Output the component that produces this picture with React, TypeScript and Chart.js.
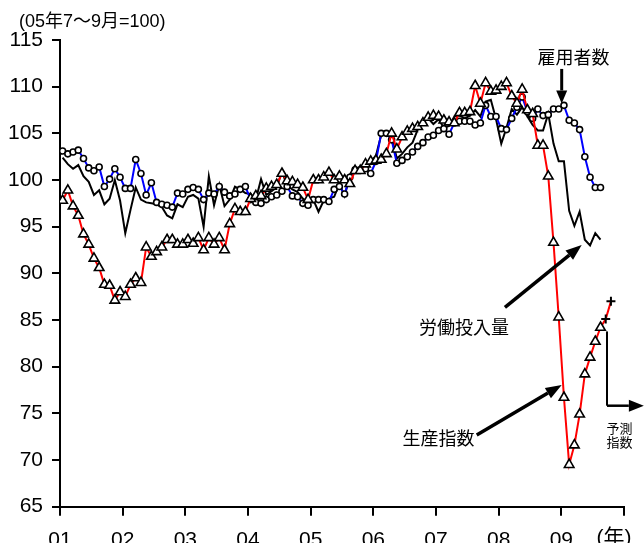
import React, { useEffect, useRef } from 'react';
import { Chart, registerables } from 'chart.js';

Chart.register(...registerables);

// ---- data (monthly, Jan 2001 .. Aug 2009), index 2005 Jul-Sep = 100 ----
const unitLabel = '(05年7～9月=100)';
const yearLabels = ['01', '02', '03', '04', '05', '06', '07', '08', '09'];
const yearUnit = '(年)';
const yMin = 65;
const yMax = 115;
const yStep = 5;

const production = [
  97.8, 98.9, 97.2, 96.2, 94.2, 93.1, 91.6, 90.6, 88.8, 88.7, 87.1, 88.0,
  87.5, 88.8, 89.5, 89.0, 92.8, 91.8, 92.3, 92.8, 93.6, 93.6, 93.1, 93.1,
  93.6, 93.2, 93.8, 92.5, 93.8, 93.1, 93.8, 92.5, 95.3, 96.9, 96.6, 96.6,
  98.0, 98.3, 98.3, 99.1, 99.3, 99.5, 100.7, 99.9, 99.8, 99.5, 99.2, 97.9,
  100.0, 100.0, 100.3, 100.8, 100.0, 100.4, 100.0, 99.6, 101.0, 101.0, 101.7, 102.0,
  102.1, 102.2, 102.8, 105.0, 103.3, 104.6, 105.2, 105.5, 105.7, 106.1, 106.7, 106.9,
  106.8, 106.4, 106.2, 106.1, 107.2, 107.2, 107.3, 110.1, 108.2, 110.4, 109.5, 109.6,
  110.0, 110.4, 109.0, 108.2, 109.7, 107.5, 107.1, 103.7, 103.7, 100.4, 93.3, 85.3,
  76.7, 69.5, 71.6, 74.9, 79.2, 81.0, 82.7, 84.2,
];
const productionForecast = [85.1, 87.0];

const employment = [
  103.1, 102.8, 103.0, 103.2, 102.3, 101.3, 101.0, 101.4, 99.3, 100.1, 101.2, 100.3,
  99.1, 99.1, 102.2, 100.7, 98.4, 99.7, 97.6, 97.4, 97.3, 97.1, 98.6, 98.5,
  99.0, 99.2, 99.0, 97.9, 98.6, 98.5, 99.3, 98.7, 98.3, 98.5, 99.0, 99.3,
  97.9, 97.6, 97.5, 97.9, 98.2, 98.4, 98.8, 99.3, 98.3, 98.2, 97.5, 97.3,
  97.9, 97.9, 97.9, 97.7, 99.0, 99.3, 98.5, 100.3, 101.1, 101.1, 101.2, 100.7,
  102.0, 105.0, 105.0, 104.3, 101.8, 102.1, 102.5, 103.0, 103.6, 104.0, 104.6, 104.8,
  105.3, 105.5, 104.9, 106.1, 106.3, 106.3, 106.3, 105.9, 106.1, 108.0, 106.8, 106.8,
  105.5, 105.4, 106.6, 107.8, 108.9, 107.3, 106.6, 107.6, 106.9, 107.0, 107.6, 107.6,
  108.0, 106.4, 106.1, 105.4, 102.5, 100.3, 99.2, 99.2,
];

const laborInput = [
  102.4, 101.7, 101.2, 101.6, 100.4, 99.8, 98.4, 98.9, 97.4, 98.0, 100.0, 97.8,
  94.3, 96.8, 99.2, 97.9, 97.6, 97.5, 97.4, 97.1, 96.2, 95.9, 97.4, 97.1,
  98.2, 98.4, 98.0, 95.0, 100.4, 97.3, 99.5, 97.2, 97.9, 99.3, 99.0, 98.6,
  98.5, 97.9, 100.1, 98.4, 98.8, 99.2, 100.9, 99.4, 99.0, 98.7, 98.0, 97.6,
  97.9, 96.6, 97.8, 98.0, 98.2, 99.6, 98.3, 100.4, 101.0, 101.3, 101.4, 102.0,
  102.6, 104.8, 105.2, 104.6, 102.3, 102.8, 103.5, 104.0, 105.4, 106.2, 106.6, 106.0,
  106.5, 105.6, 105.8, 106.8, 106.9, 106.6, 106.9, 107.5, 106.8, 108.4, 108.6, 106.5,
  103.9, 105.6, 107.6, 107.0, 107.8, 106.8, 105.9, 105.3, 105.3, 107.1, 103.9, 102.0,
  102.0, 96.7, 95.1, 96.6, 93.6, 93.0, 94.3, 93.6,
];

const LATIN = '"Liberation Sans", Arial, "Noto Sans CJK JP", sans-serif';
const CJK = '"Noto Sans CJK JP", "Noto Sans", sans-serif';
const X_MAX = yearLabels.length * 12;
const TICK_LEN_X = 9;
const TICK_PAD_X = 12;

const toPoints = (arr: number[]) => arr.map((v, i) => ({ x: i + 0.5, y: v }));

function arrow(ctx: CanvasRenderingContext2D, x1: number, y1: number, x2: number, y2: number, w: number, headLen: number, headW: number) {
  const ang = Math.atan2(y2 - y1, x2 - x1);
  const bx = x2 - Math.cos(ang) * headLen;
  const by = y2 - Math.sin(ang) * headLen;
  ctx.lineWidth = w;
  ctx.beginPath();
  ctx.moveTo(x1, y1);
  ctx.lineTo(bx, by);
  ctx.stroke();
  ctx.beginPath();
  ctx.moveTo(x2, y2);
  ctx.lineTo(bx + Math.sin(ang) * headW / 2, by - Math.cos(ang) * headW / 2);
  ctx.lineTo(bx - Math.sin(ang) * headW / 2, by + Math.cos(ang) * headW / 2);
  ctx.closePath();
  ctx.fill();
}

const annotationPlugin = {
  id: 'annotations',
  afterDraw(chart: any) {
    const { ctx } = chart;
    const xs = chart.scales.x;
    const ys = chart.scales.y;
    const X = (v: number) => xs.getPixelForValue(v);
    const Y = (v: number) => ys.getPixelForValue(v);
    ctx.save();
    ctx.fillStyle = '#000';
    ctx.strokeStyle = '#000';
    ctx.lineCap = 'butt';

    // unit label
    ctx.font = `18px ${LATIN}`;
    ctx.textAlign = 'left';
    ctx.textBaseline = 'middle';
    ctx.fillText(unitLabel, 19, 22);

    // year unit next to the last tick
    ctx.font = `21px ${LATIN}`;
    ctx.textAlign = 'center';
    ctx.textBaseline = 'top';
    ctx.fillText(yearUnit, X(X_MAX) - 10, xs.top + TICK_LEN_X + TICK_PAD_X);

    ctx.textBaseline = 'middle';
    // 雇用者数
    ctx.font = `18px ${CJK}`;
    ctx.fillText('雇用者数', X(98.33), Y(113.18));
    arrow(ctx, X(96.07), Y(111.9), X(96.07), Y(108.2), 3, 13, 11);

    // 労働投入量
    ctx.fillText('労働投入量', X(77.36), Y(84.25));
    arrow(ctx, X(85.2), Y(86.36), X(99.9), Y(93.04), 3.5, 16, 12);

    // 生産指数
    ctx.fillText('生産指数', X(72.48), Y(72.36));
    arrow(ctx, X(79.8), Y(72.68), X(96.07), Y(78.04), 3.5, 16, 12);

    // 予測指数 bracket
    ctx.lineWidth = 2;
    ctx.beginPath();
    ctx.moveTo(X(104.74), Y(83.78));
    ctx.lineTo(X(104.74), Y(75.82));
    ctx.stroke();
    arrow(ctx, X(104.74), Y(75.82), X(111.8), Y(75.82), 2.5, 15, 12);
    ctx.font = `13px ${CJK}`;
    ctx.fillText('予測', X(107.15), Y(73.43));
    ctx.fillText('指数', X(107.15), Y(71.93));
    ctx.restore();
  },
};

export default function App() {
  const ref = useRef<HTMLCanvasElement>(null);
  useEffect(() => {
    if (!ref.current) return;
    const prodAll = [...production, ...productionForecast];
    const nReal = production.length;
    const axisCommon = {
      grid: { drawOnChartArea: false, drawTicks: true, tickLength: 8, color: '#000', lineWidth: 2 },
      border: { color: '#000', width: 2 },
    };
    const chart = new Chart(ref.current, {
      type: 'line',
      data: {
        datasets: [
          {
            label: '生産指数',
            data: toPoints(prodAll),
            borderColor: '#ff0000',
            borderWidth: 2,
            tension: 0,
            pointStyle: (c: any) => (c.dataIndex >= nReal ? 'cross' : 'triangle'),
            pointRadius: (c: any) => (c.dataIndex >= nReal ? 4.5 : 5.5),
            pointBorderWidth: (c: any) => (c.dataIndex >= nReal ? 2 : 1.6),
            pointBorderColor: '#000',
            pointBackgroundColor: '#fff',
          },
          {
            label: '雇用者数',
            data: toPoints(employment),
            borderColor: '#0000ff',
            borderWidth: 2,
            tension: 0,
            pointStyle: 'circle',
            pointRadius: 3,
            pointBorderWidth: 1.6,
            pointBorderColor: '#000',
            pointBackgroundColor: '#fff',
          },
          {
            label: '労働投入量',
            data: toPoints(laborInput),
            borderColor: '#000',
            borderWidth: 2,
            tension: 0,
            pointRadius: 0,
          },
        ],
      },
      options: {
        animation: false,
        responsive: false,
        maintainAspectRatio: false,
        events: [],
        layout: { padding: { top: 40, right: 20, left: 0, bottom: 0 } },
        plugins: { legend: { display: false }, tooltip: { enabled: false } },
        scales: {
          x: {
            type: 'linear',
            min: 0,
            max: X_MAX,
            afterFit: (s: any) => { s.height = 36.3; s.paddingRight = 0; s.paddingLeft = 0; },
            ticks: {
              stepSize: 12,
              autoSkip: false,
              maxRotation: 0,
              color: '#000',
              padding: TICK_PAD_X,
              font: { size: 21, family: LATIN },
              callback: (v: any) => yearLabels[v / 12] ?? '',
            },
            ...axisCommon,
            grid: { ...axisCommon.grid, tickLength: TICK_LEN_X },
          },
          y: {
            min: yMin,
            max: yMax,
            afterFit: (s: any) => { s.width = 60; },
            ticks: {
              stepSize: yStep,
              color: '#000',
              padding: 9,
              font: { size: 21, family: LATIN },
            },
            ...axisCommon,
          },
        },
      },
      plugins: [annotationPlugin],
    } as any);
    return () => chart.destroy();
  }, []);
  return (
    <div style={{ position: 'absolute', left: 0, top: 0, width: 644, height: 543, overflow: 'hidden', background: '#fff' }}>
      <canvas ref={ref} width={644} height={543} style={{ display: 'block' }} />
    </div>
  );
}
